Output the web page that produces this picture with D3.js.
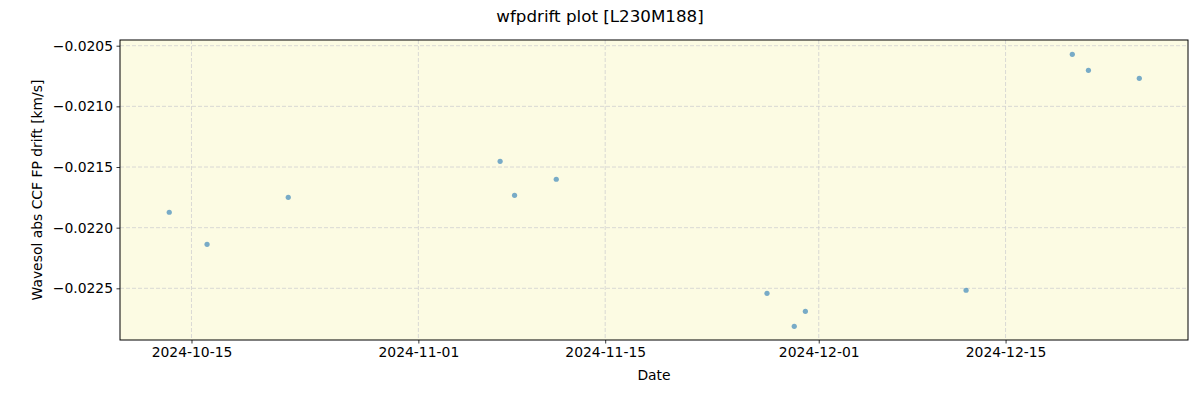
<!DOCTYPE html>
<html>
<head>
<meta charset="utf-8">
<script src="https://cdn.jsdelivr.net/npm/d3@7"></script>
<style>
  body { margin: 0; background: #fff; }
  svg text { font-family: "DejaVu Sans", sans-serif; fill: #000; }
</style>
</head>
<body>
<div id="chart"></div>
<script>
var obsDates = ["2024-10-13T08:00", "2024-10-16T04:00", "2024-10-22T06:00",
                "2024-11-07T03:00", "2024-11-08T05:00", "2024-11-11T08:00",
                "2024-11-27T03:00", "2024-11-29T04:00", "2024-11-30T00:00",
                "2024-12-12T01:00", "2024-12-20T00:00", "2024-12-21T05:00",
                "2024-12-25T00:30"];
var driftValues = [-0.021873, -0.022137, -0.021750,
                   -0.021453, -0.021733, -0.021601,
                   -0.022541, -0.022813, -0.022690,
                   -0.022516, -0.020571, -0.020703,
                   -0.020769];
var xTickDates = ["2024-10-15", "2024-11-01", "2024-11-15", "2024-12-01", "2024-12-15"];
var yTickValues = [-0.0205, -0.0210, -0.0215, -0.0220, -0.0225];

var W = 1200, H = 400;
var margin = {top: 40, right: 12, bottom: 60, left: 120},
    width = W - margin.left - margin.right,
    height = H - margin.top - margin.bottom;

var parse = d3.isoParse;
var data = obsDates.map(function(d, i) { return {date: parse(d), value: driftValues[i]}; });

var svg = d3.select("#chart").append("svg")
    .attr("width", W)
    .attr("height", H);

var g = svg.append("g")
    .attr("transform", "translate(" + margin.left + "," + margin.top + ")");

var x = d3.scaleTime()
    .domain([parse("2024-10-09T15:26"), parse("2024-12-28T16:05")])
    .range([0, width]);
var y = d3.scaleLinear()
    .domain([-0.022926, -0.020453])
    .range([height, 0]);

// background
g.append("rect")
    .attr("width", width)
    .attr("height", height)
    .attr("fill", "#fcfbe3");

// grid
g.append("g")
  .selectAll("line")
  .data(xTickDates)
  .enter().append("line")
    .attr("x1", function(d) { return x(parse(d)); })
    .attr("x2", function(d) { return x(parse(d)); })
    .attr("y1", 0).attr("y2", height)
    .attr("stroke", "#d0d0d0").attr("stroke-width", 0.8)
    .attr("stroke-dasharray", "4,2");
g.append("g")
  .selectAll("line")
  .data(yTickValues)
  .enter().append("line")
    .attr("y1", function(d) { return y(d); })
    .attr("y2", function(d) { return y(d); })
    .attr("x1", 0).attr("x2", width)
    .attr("stroke", "#d0d0d0").attr("stroke-width", 0.8)
    .attr("stroke-dasharray", "4,2");

// points
g.append("g")
  .selectAll("circle")
  .data(data)
  .enter().append("circle")
    .attr("cx", function(d) { return x(d.date); })
    .attr("cy", function(d) { return y(d.value); })
    .attr("r", 2.6)
    .attr("fill", "#1f77b4")
    .attr("fill-opacity", 0.6);

// axes
var xAxis = d3.axisBottom(x)
    .tickValues(xTickDates.map(parse))
    .tickFormat(d3.timeFormat("%Y-%m-%d"))
    .tickSizeOuter(0)
    .tickSize(3.5)
    .tickPadding(3.5);
var gx = g.append("g")
    .attr("transform", "translate(0," + height + ")")
    .call(xAxis);
gx.select(".domain").remove();
gx.selectAll("text").style("font-size", "13.9px");
gx.selectAll("line").attr("stroke", "#000").attr("stroke-width", 0.8);

var yAxis = d3.axisLeft(y)
    .tickValues(yTickValues)
    .tickFormat(function(d) { return d3.format(".4f")(d).replace("-", "\u2212"); })
    .tickSizeOuter(0)
    .tickSize(3.5)
    .tickPadding(3.5);
var gy = g.append("g").call(yAxis);
gy.select(".domain").remove();
gy.selectAll("text").style("font-size", "13.9px");
gy.selectAll("line").attr("stroke", "#000").attr("stroke-width", 0.8);

// frame
g.append("rect")
    .attr("width", width)
    .attr("height", height)
    .attr("fill", "none")
    .attr("stroke", "#000")
    .attr("stroke-width", 1);

// labels
svg.append("text")
    .attr("x", W / 2).attr("y", 22)
    .attr("text-anchor", "middle")
    .style("font-size", "16.7px")
    .text("wfpdrift plot [L230M188]");

svg.append("text")
    .attr("x", margin.left + width / 2).attr("y", 380)
    .attr("text-anchor", "middle")
    .style("font-size", "13.9px")
    .text("Date");

svg.append("text")
    .attr("transform", "translate(42," + (margin.top + height / 2) + ") rotate(-90)")
    .attr("text-anchor", "middle")
    .style("font-size", "13.9px")
    .text("Wavesol abs CCF FP drift [km/s]");
</script>
</body>
</html>
